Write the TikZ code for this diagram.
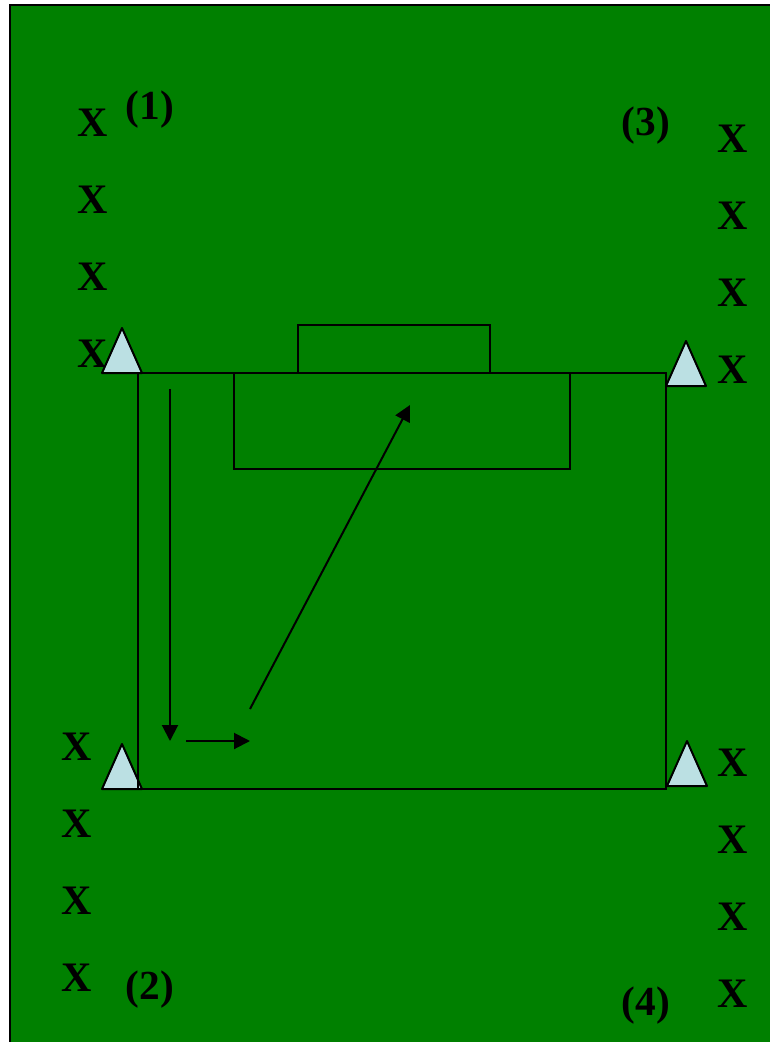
\documentclass[tikz,border=0pt]{standalone}
\usepackage{fontspec}
\setmainfont{Liberation Serif}
\usetikzlibrary{arrows.meta}
\definecolor{pitch}{HTML}{008000}
\definecolor{cone}{HTML}{BBE0E3}
\tikzset{
  player/.style={inner sep=0pt,yshift=-0.75pt,font=\fontsize{31.5pt}{32pt}\selectfont\bfseries},
  grouplabel/.style={inner sep=0pt,yshift=-0.75pt,font=\fontsize{31pt}{32pt}\selectfont\bfseries},
  conemark/.style={draw=black,fill=cone,line width=1.5pt,line join=round},
  markline/.style={draw=black,line width=1.5pt},
  run/.style={draw=black,line width=1.5pt,-{Triangle[length=12pt,width=12pt]}}
}
\begin{document}
\begin{tikzpicture}[x=0.75pt,y=-0.75pt]
\useasboundingbox (0,0) rectangle (770,1042);
\fill[white] (0,0) rectangle (770,1042);
\path[fill=pitch] (10,5) rectangle (770,1042);
\draw[black,line width=1.5pt] (10,1042) -- (10,5) -- (770,5);
% players
\foreach \n/\y in {a/122,b/199,c/276,d/353}{\node[player] (p1\n) at (92.5,\y) {X};}
\foreach \n/\y in {a/746,b/823,c/900,d/977}{\node[player] (p2\n) at (76.5,\y) {X};}
\foreach \n/\y in {a/138,b/215,c/292,d/369}{\node[player] (p3\n) at (732.5,\y) {X};}
\foreach \n/\y in {a/762,b/839,c/916,d/993}{\node[player] (p4\n) at (732.5,\y) {X};}
% labels
\node[grouplabel] (l1) at (150,108.5) {(1)};
\node[grouplabel] (l2) at (150,988.5) {(2)};
\node[grouplabel] (l3) at (646,124.5) {(3)};
\node[grouplabel] (l4) at (646,1004.5) {(4)};
% cones
\draw[conemark] (122,328) -- (102,373) -- (142,373) -- cycle;
\draw[conemark] (122,744) -- (102,789) -- (142,789) -- cycle;
\draw[conemark] (686,341) -- (666,386) -- (706,386) -- cycle;
\draw[conemark] (687,741) -- (667,786) -- (707,786) -- cycle;
% pitch markings
\draw[markline] (138,373) rectangle (666,789);
\draw[markline] (234,373) rectangle (570,469);
\draw[markline] (298,373) rectangle (490,325);
% runs
\coordinate (r1s) at (170,389);
\coordinate (r1e) at (170,741);
\coordinate (r2s) at (186,741);
\coordinate (r2e) at (250,741);
\coordinate (r3s) at (250,709);
\coordinate (r3e) at (410,405);
\draw[run] (r1s) -- (r1e);
\draw[run] (r2s) -- (r2e);
\draw[run] (r3s) -- (r3e);
\end{tikzpicture}
\end{document}
